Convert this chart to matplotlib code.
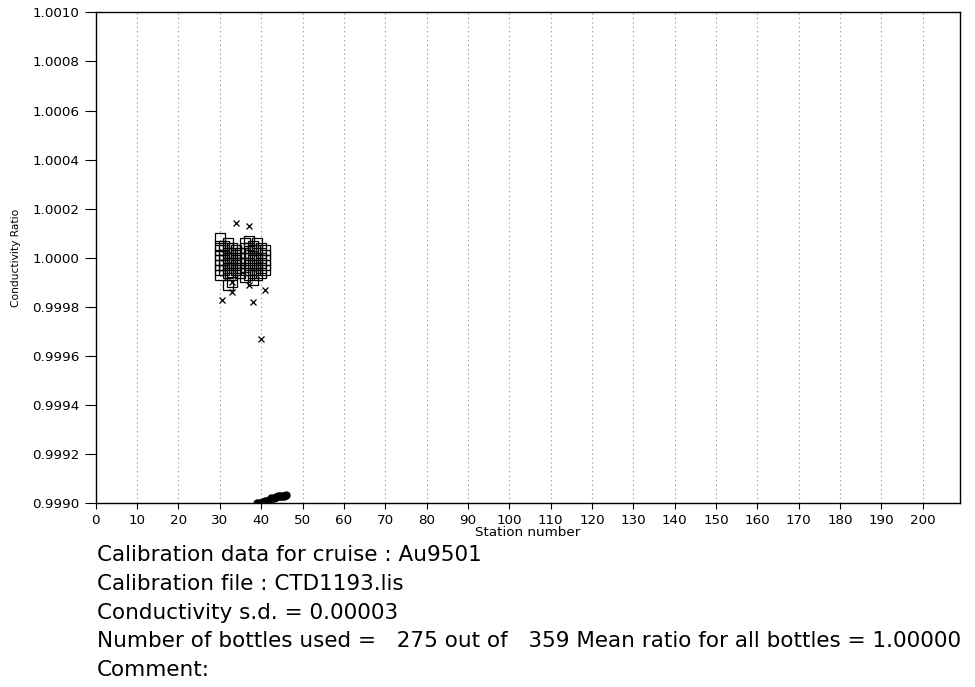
import numpy as np
from matplotlib import pyplot as plt

plt.rcParams["font.family"] = ["DejaVu Sans"]

# Bottles used in the calibration (station, conductivity ratio)
good_station = (
    [30] * 8 + [31] * 6 + [32] * 8 + [33] * 7 + [34] * 5 + [35] * 5
    + [36] * 7 + [37] * 6 + [38] * 6 + [39] * 6 + [40] * 6 + [41] * 5
)
good_ratio = [
    1.00008, 1.00005, 1.00003, 1.00001, 0.99999, 0.99997, 0.99995, 0.99993,
    1.00005, 1.00003, 1.00001, 0.99999, 0.99997, 0.99995,
    1.00006, 1.00004, 1.00002, 1.00000, 0.99998, 0.99996, 0.99994, 0.99989,
    1.00004, 1.00002, 1.00000, 0.99998, 0.99996, 0.99993, 0.99990,
    1.00003, 1.00001, 0.99999, 0.99997, 0.99995,
    1.00002, 1.00000, 0.99998, 0.99996, 0.99994,
    1.00006, 1.00004, 1.00002, 1.00000, 0.99998, 0.99995, 0.99992,
    1.00007, 1.00004, 1.00001, 0.99998, 0.99995, 0.99993,
    1.00005, 1.00003, 1.00000, 0.99997, 0.99994, 0.99991,
    1.00006, 1.00003, 1.00000, 0.99997, 0.99995, 0.99993,
    1.00004, 1.00002, 1.00000, 0.99998, 0.99996, 0.99994,
    1.00003, 1.00001, 0.99999, 0.99997, 0.99995,
]

# Rejected bottles
bad_station = [34, 37, 30.5, 33, 33, 37, 38, 41, 40]
bad_ratio = [1.00014, 1.00013, 0.99983, 0.99986, 0.99990, 0.99989, 0.99982, 0.99987, 0.99967]

# Off-scale bottles along the bottom axis
low_station = [39, 39.5, 40, 40.5, 41, 41.5, 42, 42.5, 43, 43.5, 44, 44.5, 45, 45.5, 46]
low_ratio = [0.99900, 0.99900, 0.99900, 0.999005, 0.99901, 0.99901, 0.999015, 0.99902,
             0.99902, 0.999025, 0.99903, 0.99903, 0.99903, 0.99903, 0.999032]

cruise = "Au9501"
cal_file = "CTD1193.lis"
cond_sd = 0.00003
n_used = 275
n_total = 359
mean_ratio = 1.00000

fig = plt.figure(figsize=(9.75, 6.87), dpi=100)
ax = fig.add_axes([0.0982, 0.2674, 0.8864, 0.7146])

ax.plot(good_station, good_ratio, "s", mfc="none", mec="black", ms=7.5, mew=0.9)
ax.plot(bad_station, bad_ratio, "x", color="black", ms=4.5, mew=0.9)
ax.plot(low_station, low_ratio, "o", color="black", ms=5)

ax.set_xlim(0, 209)
ax.set_ylim(0.9990, 1.0010)
ax.set_xticks(np.arange(0, 201, 10))
yt = np.arange(0.9990, 1.00101, 0.0002)
ax.set_yticks(yt)
ax.set_yticklabels(["%.4f" % v for v in yt])
ax.tick_params(labelsize=9.7)
ax.tick_params(axis="x", direction="out", length=4, width=0.8, pad=4)
ax.tick_params(axis="y", direction="out", length=8, width=0.8, pad=4)
for x in range(10, 201, 10):
    ax.axvline(x, color="#888888", lw=0.8, ls=(0, (1, 3)), zorder=0)
for s in ax.spines.values():
    s.set_linewidth(1.0)

ax.set_xlabel("Station number", fontsize=9.7, labelpad=-1)
ax.set_ylabel("Conductivity Ratio", fontsize=7.7, labelpad=8)

lines = [
    "Calibration data for cruise : %s" % cruise,
    "Calibration file : %s" % cal_file,
    "Conductivity s.d. = %.5f" % cond_sd,
    "Number of bottles used = %5d out of %5d Mean ratio for all bottles = %.5f" % (n_used, n_total, mean_ratio),
    "Comment:",
]
for i, line in enumerate(lines):
    y = 555 + i * 28.8
    fig.text(97 / 975, 1 - y / 687, line, fontsize=15.5, va="center", ha="left")

fig.savefig("out.png", dpi=100)
